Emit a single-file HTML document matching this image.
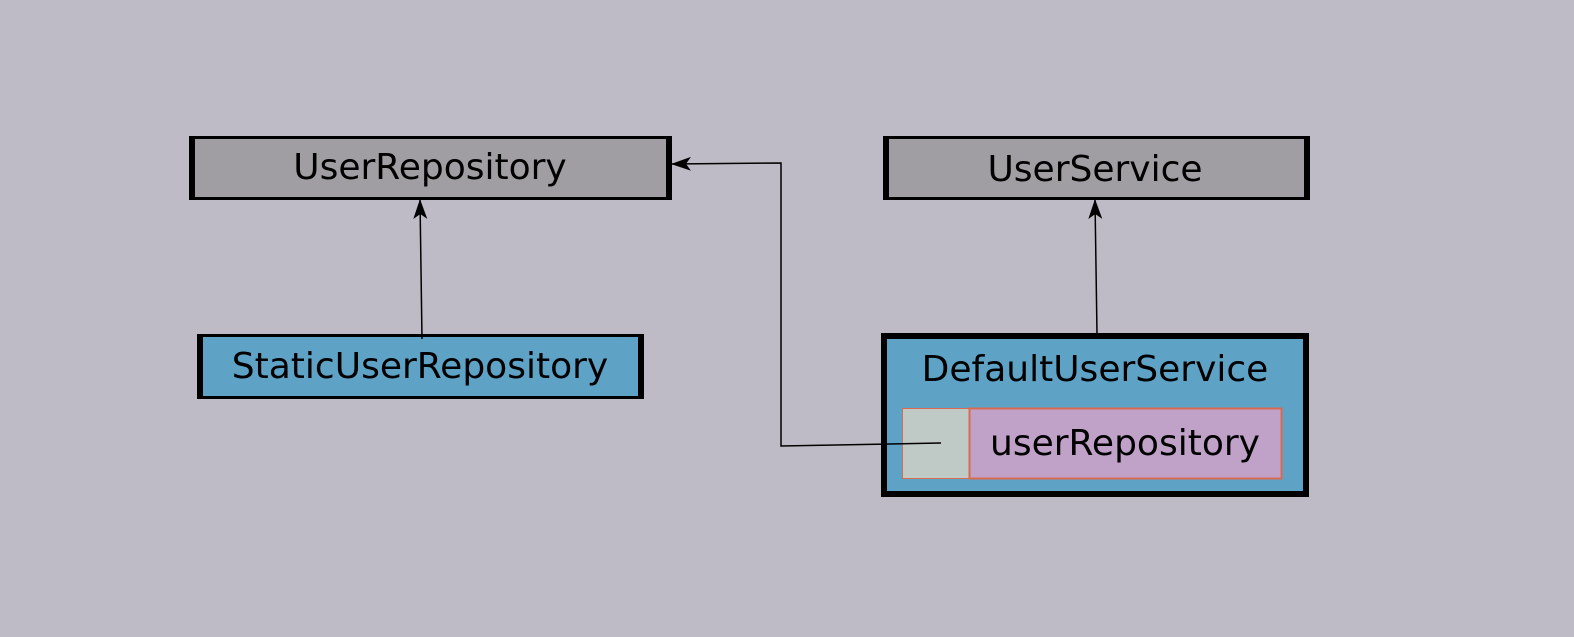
<!DOCTYPE html>
<html><head><style>html,body{margin:0;padding:0;background:#bebbc6;}svg{display:block}</style></head>
<body>
<svg width="1574" height="637" viewBox="0 0 1574 637" xmlns="http://www.w3.org/2000/svg" font-family="DejaVu Sans, Liberation Sans, sans-serif" font-size="36">
<defs>
<marker id="a" viewBox="0 0 20 20" refX="19" refY="10" markerWidth="20" markerHeight="20" markerUnits="userSpaceOnUse" orient="auto">
<path d="M0,3 L20,10 L0,17 L5,10 Z" fill="#000"/>
</marker>
</defs>
<rect width="1574" height="637" fill="#bebbc6"/>
<rect x="190.5" y="137.5" width="480" height="61" fill="#a09ea3" stroke="#000" stroke-width="3"/>
<rect x="190" y="137" width="5" height="62" fill="#000"/><rect x="666" y="137" width="5" height="62" fill="#000"/>
<text x="430" y="179" text-anchor="middle">UserRepository</text>
<rect x="884.5" y="137.5" width="424" height="61" fill="#a09ea3" stroke="#000" stroke-width="3"/>
<rect x="884" y="137" width="5" height="62" fill="#000"/><rect x="1304" y="137" width="5" height="62" fill="#000"/>
<text x="1095" y="181" text-anchor="middle">UserService</text>
<rect x="198.5" y="335.5" width="444" height="62" fill="#5ea3c6" stroke="#000" stroke-width="3"/>
<rect x="198" y="335" width="5" height="63" fill="#000"/><rect x="638" y="335" width="5" height="63" fill="#000"/>
<text x="420" y="378" text-anchor="middle">StaticUserRepository</text>
<rect x="884" y="336" width="422" height="158" fill="#5ea3c6" stroke="#000" stroke-width="6"/>
<text x="1095" y="381" text-anchor="middle">DefaultUserService</text>
<rect x="902.5" y="408.5" width="67" height="70" fill="#bfcac6" stroke="#d86a50" stroke-width="1"/>
<rect x="969.5" y="408.5" width="312" height="70" fill="#c0a1c8" stroke="#d86a50" stroke-width="2"/>
<text x="1125" y="455" text-anchor="middle">userRepository</text>
<line x1="422" y1="339" x2="420" y2="200" stroke="#000" stroke-width="1.5" marker-end="url(#a)"/>
<line x1="1097" y1="334" x2="1095" y2="200" stroke="#000" stroke-width="1.5" marker-end="url(#a)"/>
<polyline points="941,443 781,446 781,163 672,164" fill="none" stroke="#000" stroke-width="1.5" marker-end="url(#a)"/>
</svg>
</body></html>
